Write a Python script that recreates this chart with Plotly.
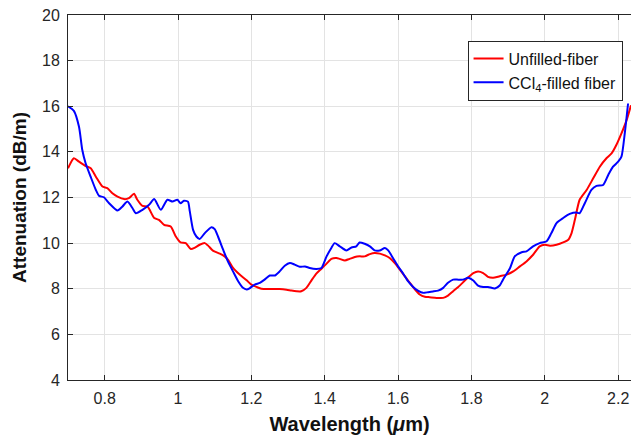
import plotly.graph_objects as go

red_x = [0.700, 0.716, 0.730, 0.748, 0.762, 0.776, 0.794, 0.807, 0.821, 0.835, 0.853, 0.866, 0.880, 0.889,
         0.903, 0.917, 0.935, 0.948, 0.962, 0.980, 0.994, 1.007, 1.021, 1.035, 1.045, 1.059, 1.073, 1.082,
         1.095, 1.114, 1.127, 1.136, 1.150, 1.168, 1.187, 1.200, 1.214, 1.227, 1.250, 1.277, 1.296, 1.309,
         1.323, 1.336, 1.350, 1.364, 1.377, 1.391, 1.405, 1.418, 1.432, 1.441, 1.455, 1.468, 1.482, 1.495,
         1.509, 1.523, 1.536, 1.550, 1.564, 1.577, 1.591, 1.605, 1.618, 1.632, 1.645, 1.659, 1.673, 1.686,
         1.705, 1.723, 1.736, 1.750, 1.764, 1.777, 1.791, 1.805, 1.818, 1.832, 1.845, 1.859, 1.877, 1.896,
         1.914, 1.932, 1.950, 1.968, 1.986, 2.000, 2.014, 2.032, 2.050, 2.064, 2.073, 2.082, 2.095, 2.114,
         2.132, 2.150, 2.168, 2.182, 2.195, 2.209, 2.223, 2.235]
red_y = [13.28, 13.72, 13.57, 13.38, 13.28, 12.91, 12.48, 12.41, 12.19, 12.04, 11.93, 11.97, 12.16, 11.90,
         11.63, 11.60, 11.10, 11.02, 10.80, 10.73, 10.29, 10.03, 10.00, 9.74, 9.79, 9.93, 10.00, 9.89,
         9.67, 9.54, 9.42, 9.28, 8.91, 8.62, 8.37, 8.18, 8.08, 8.00, 7.99, 7.99, 7.96, 7.92,
         7.89, 7.89, 8.04, 8.37, 8.66, 8.88, 9.10, 9.31, 9.35, 9.31, 9.24, 9.31, 9.39, 9.42,
         9.42, 9.52, 9.57, 9.54, 9.46, 9.35, 9.13, 8.84, 8.55, 8.26, 7.99, 7.75, 7.65, 7.63,
         7.60, 7.60, 7.70, 7.89, 8.08, 8.28, 8.50, 8.69, 8.76, 8.69, 8.52, 8.48, 8.55, 8.62,
         8.76, 8.98, 9.20, 9.49, 9.86, 9.93, 9.89, 9.93, 10.03, 10.15, 10.44, 11.02, 11.90, 12.33,
         12.84, 13.35, 13.72, 13.93, 14.30, 14.81, 15.39, 16.04]

blue_x = [0.700, 0.716, 0.730, 0.739, 0.748, 0.762, 0.776, 0.785, 0.798, 0.812, 0.835, 0.848, 0.862, 0.876,
          0.885, 0.903, 0.921, 0.935, 0.953, 0.971, 0.985, 0.998, 1.007, 1.016, 1.027, 1.032, 1.041, 1.050,
          1.059, 1.073, 1.091, 1.100, 1.109, 1.123, 1.136, 1.150, 1.164, 1.177, 1.187, 1.195, 1.209, 1.223,
          1.236, 1.250, 1.264, 1.277, 1.291, 1.305, 1.318, 1.332, 1.346, 1.359, 1.377, 1.391, 1.405, 1.418,
          1.427, 1.441, 1.459, 1.473, 1.486, 1.495, 1.509, 1.523, 1.536, 1.550, 1.564, 1.573, 1.586, 1.600,
          1.614, 1.627, 1.641, 1.654, 1.668, 1.682, 1.695, 1.709, 1.723, 1.736, 1.750, 1.764, 1.777, 1.791,
          1.805, 1.818, 1.832, 1.845, 1.864, 1.877, 1.886, 1.905, 1.918, 1.937, 1.950, 1.968, 1.986, 2.005,
          2.018, 2.032, 2.050, 2.068, 2.086, 2.095, 2.109, 2.127, 2.141, 2.159, 2.173, 2.186, 2.200, 2.209,
          2.218, 2.227]
blue_y = [16.00, 15.80, 15.10, 14.08, 13.50, 12.90, 12.33, 12.07, 12.01, 11.75, 11.43, 11.60, 11.82, 11.53,
          11.31, 11.46, 11.68, 11.93, 11.46, 11.90, 11.82, 11.90, 11.75, 11.86, 11.82, 11.40, 10.58, 10.29,
          10.18, 10.44, 10.70, 10.61, 10.29, 9.71, 9.20, 8.76, 8.33, 8.04, 7.97, 8.02, 8.18, 8.26,
          8.40, 8.58, 8.58, 8.76, 9.01, 9.13, 9.06, 8.96, 8.98, 8.91, 8.87, 8.91, 9.42, 9.79,
          10.00, 9.86, 9.68, 9.81, 9.86, 10.03, 9.97, 9.86, 9.68, 9.68, 9.79, 9.68, 9.35, 8.98,
          8.66, 8.33, 8.08, 7.92, 7.82, 7.85, 7.88, 7.92, 8.04, 8.26, 8.40, 8.40, 8.40, 8.48,
          8.36, 8.14, 8.08, 8.08, 8.01, 8.14, 8.40, 8.90, 9.42, 9.60, 9.64, 9.86, 10.00, 10.08,
          10.44, 10.88, 11.10, 11.28, 11.34, 11.31, 11.75, 12.33, 12.51, 12.55, 12.99, 13.35, 13.57, 13.79,
          14.81, 16.12]

x_ticks = [0.8, 1.0, 1.2, 1.4, 1.6, 1.8, 2.0, 2.2]
x_tick_labels = ["0.8", "1", "1.2", "1.4", "1.6", "1.8", "2", "2.2"]
y_ticks = [4, 6, 8, 10, 12, 14, 16, 18, 20]

FONT = "Liberation Sans, Arial, sans-serif"
AXC = "#262626"

fig = go.Figure()
fig.add_trace(go.Scatter(x=red_x, y=red_y, mode="lines", name="Unfilled-fiber",
                         line=dict(color="#ff0000", width=2, shape="spline", smoothing=0.6)))
fig.add_trace(go.Scatter(x=blue_x, y=blue_y, mode="lines", name="CCl<sub>4</sub>-filled fiber",
                         line=dict(color="#0000ff", width=2, shape="spline", smoothing=0.6)))

fig.update_layout(
    width=631, height=440,
    margin=dict(l=68, r=0, t=15, b=60),
    paper_bgcolor="white", plot_bgcolor="white",
    font=dict(family=FONT, color=AXC, size=16),
    showlegend=True,
    legend=dict(x=0.985, y=0.93, xanchor="right", yanchor="top",
                bgcolor="white", bordercolor=AXC, borderwidth=1,
                font=dict(size=16, color="#111111"), tracegroupgap=0),
    xaxis=dict(range=[0.7, 2.235], tickvals=x_ticks, ticktext=x_tick_labels,
               showgrid=True, gridcolor="#e3e3e3", gridwidth=1,
               showline=True, linecolor=AXC, linewidth=1, mirror="ticks",
               ticks="inside", ticklen=5, tickcolor=AXC, ticklabelstandoff=4,
               tickfont=dict(size=16, color=AXC), zeroline=False,
               title=dict(text="<b>Wavelength (<i>μ</i>m)</b>", font=dict(size=20, color="#111111"), standoff=10)),
    yaxis=dict(range=[4, 20], tickvals=y_ticks,
               showgrid=True, gridcolor="#e3e3e3", gridwidth=1,
               showline=True, linecolor=AXC, linewidth=1, mirror=False,
               ticks="inside", ticklen=5, tickcolor=AXC, ticklabelstandoff=4,
               tickfont=dict(size=16, color=AXC), zeroline=False,
               title=dict(text="<b>Attenuation (dB/m)</b>", font=dict(size=19, color="#111111"), standoff=10)),
)

fig.write_html("out.html")
